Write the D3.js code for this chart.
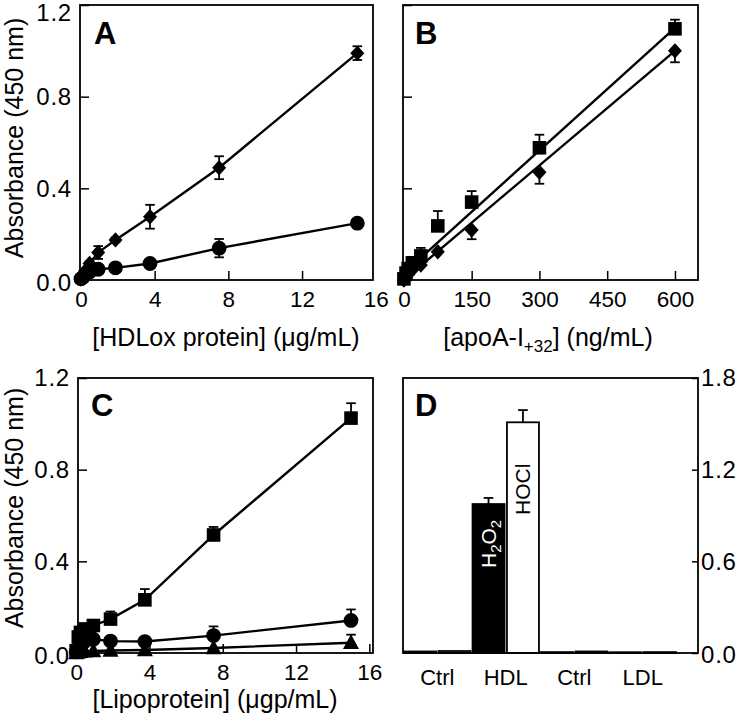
<!DOCTYPE html>
<html><head><meta charset="utf-8">
<script src="https://cdn.jsdelivr.net/npm/d3@7"></script>
<style>
body{margin:0;background:#fff}
text{font-family:"Liberation Sans",Arial,Helvetica,sans-serif;fill:#000}
</style>
</head><body>
<svg id="c" width="736" height="719" xmlns="http://www.w3.org/2000/svg"></svg>
<script>
// ---------------- DATA ----------------
// Panel A: [HDLox protein] (µg/mL)
const concA = [0, 0.117, 0.234, 0.469, 0.938, 1.875, 3.75, 7.5, 15];
const aDiamond = [0.005, 0.02, 0.04, 0.072, 0.12, 0.175, 0.276, 0.49, 0.99];
const aDiamondErr = [0, 0, 0, 0.01, 0.028, 0.01, 0.052, 0.05, 0.03];
const aCircle = [0.005, 0.012, 0.025, 0.035, 0.047, 0.053, 0.072, 0.139, 0.248];
const aCircleErr = [0, 0, 0, 0, 0, 0, 0.01, 0.04, 0.015];

// Panel B: [apoA-I+32] (ng/mL)
const concB = [0, 4.7, 9.4, 18.75, 37.5, 75, 150, 300, 600];
const bSquare = [0.005, 0.03, 0.05, 0.075, 0.105, 0.236, 0.34, 0.577, 1.096];
const bSquareErr = [0, 0, 0, 0, 0.035, 0.065, 0.048, 0.057, 0.04];
const bDiamond = [0, 0.015, 0.03, 0.045, 0.065, 0.123, 0.218, 0.47, 1.0];
const bDiamondErr = [0, 0, 0, 0, 0, 0, 0.04, 0.05, 0.05];
// fitted regression lines [x0, y0, x1, y1]
const bSquareFit = [0, 0.03, 600, 1.10];
const bDiamondFit = [0, 0.0, 600, 1.0];

// Panel C: [Lipoprotein] (µgp/mL)
const concC = [0, 0.117, 0.234, 0.469, 0.938, 1.875, 3.75, 7.5, 15];
const cSquare = [0.01, 0.07, 0.09, 0.105, 0.12, 0.148, 0.232, 0.515, 1.025];
const cSquareErr = [0, 0, 0, 0, 0, 0.033, 0.047, 0.035, 0.065];
const cCircle = [0.005, 0.02, 0.035, 0.05, 0.06, 0.052, 0.05, 0.076, 0.142];
const cCircleErr = [0, 0, 0, 0, 0, 0, 0, 0.04, 0.048];
const cTriangle = [0, 0.003, 0.005, 0.007, 0.009, 0.011, 0.013, 0.022, 0.045];
const cTriangleErr = [0, 0, 0, 0, 0, 0, 0, 0, 0.035];

// Panel D: bars
const dGroups = ["Ctrl", "HDL", "Ctrl", "LDL"];
const dH2O2 = [0.01, 0.975, 0.006, 0.005];
const dH2O2Err = [0, 0.04, 0, 0];
const dHOCl = [0.013, 1.51, 0.01, 0.006];
const dHOClErr = [0, 0.08, 0, 0];

// Tick values / labels
const ticksConc = [0, 4, 8, 12, 16];
const ticksApo = [0, 150, 300, 450, 600];
const ticksAbs = [0, 0.4, 0.8, 1.2];
const ticksD = [0, 0.6, 1.2, 1.8];

// ---------------- DRAWING ----------------
const svg = d3.select("#c");
const XTICK_FS = 22.5, YTICK_FS = 24, TITLE_FS = 25;
const LW = 2.4;

const shapes = {
  circle: r => `M${r},0A${r},${r} 0 1,1 ${-r},0A${r},${r} 0 1,1 ${r},0Z`,
  diamond: s => `M0,${-s*1.1}L${s},0L0,${s*1.1}L${-s},0Z`,
  square: s => `M${-s},${-s}H${s}V${s}H${-s}Z`,
  triangle: s => `M0,${-s*1.15}L${s*1.1},${s*0.85}L${-s*1.1},${s*0.85}Z`
};
const shapeSize = {circle: 7.4, diamond: 7, square: 6.8, triangle: 7.3};

function makePanel(p) {
  const g = svg.append("g");
  const x = d3.scaleLinear().domain(p.xd).range([p.l, p.r]);
  const y = d3.scaleLinear().domain(p.yd).range([p.b, p.t]);

  const xa = g.append("g").attr("transform", `translate(0,${p.b})`)
    .call(d3.axisBottom(x).tickValues(p.xt).tickFormat(d3.format("d"))
      .tickSizeInner(-9).tickSizeOuter(0).tickPadding(11));
  xa.select(".domain").remove();
  xa.selectAll("text").attr("font-size", XTICK_FS).attr("font-family", null);
  xa.selectAll(".tick line").attr("stroke-width", 1.5)
    .attr("display", d => (x(d) < p.l - 0.5 || x(d) > p.r + 0.5) ? "none" : null);

  const ya = g.append("g").attr("transform", `translate(${p.l},0)`)
    .call(d3.axisLeft(y).tickValues(p.yt).tickFormat(d3.format(".1f"))
      .tickSizeInner(-9).tickSizeOuter(0).tickPadding(8));
  ya.select(".domain").remove();
  ya.selectAll("text").attr("font-size", YTICK_FS).attr("font-family", null)
    .attr("letter-spacing", 0.8)
    .attr("y", d => (y(d) < 12) ? 8 : (p.b - y(d) < 1 ? 3 : 0));
  ya.selectAll(".tick line").attr("stroke-width", 1.5);
  if (!p.yLabels) ya.selectAll("text").remove();

  g.append("rect").attr("x", p.l).attr("y", p.t).attr("width", p.r - p.l).attr("height", p.b - p.t)
    .attr("fill", "none").attr("stroke", "#000").attr("stroke-width", 1.8);

  // lines
  p.series.forEach(s => {
    if (s.fit) {
      g.append("line").attr("x1", x(s.fit[0])).attr("y1", y(s.fit[1]))
        .attr("x2", x(s.fit[2])).attr("y2", y(s.fit[3]))
        .attr("stroke", "#000").attr("stroke-width", LW);
    } else {
      const pts = s.xs.map((v, i) => [v, s.ys[i]]);
      g.append("path").attr("d", d3.line().x(d => x(d[0])).y(d => y(d[1]))(pts))
        .attr("fill", "none").attr("stroke", "#000").attr("stroke-width", LW);
    }
  });
  // error bars
  p.series.forEach(s => {
    s.xs.forEach((v, i) => {
      const e = s.err[i];
      if (!e) return;
      const cx = x(v), cy = y(s.ys[i]);
      const ends = [];
      if (s.dir.includes("up")) ends.push(y(s.ys[i] + e));
      if (s.dir.includes("down")) ends.push(y(s.ys[i] - e));
      ends.forEach(ey => {
        g.append("line").attr("x1", cx).attr("x2", cx).attr("y1", cy).attr("y2", ey)
          .attr("stroke", "#000").attr("stroke-width", 1.8);
        g.append("line").attr("x1", cx - 4.8).attr("x2", cx + 4.8).attr("y1", ey).attr("y2", ey)
          .attr("stroke", "#000").attr("stroke-width", 1.8);
      });
    });
  });
  // markers
  p.series.forEach(s => {
    s.xs.forEach((v, i) => {
      g.append("path").attr("d", shapes[s.shape](shapeSize[s.shape]))
        .attr("transform", `translate(${x(v)},${y(s.ys[i])})`).attr("fill", "#000");
    });
  });

  g.append("text").attr("x", p.letter[0]).attr("y", p.letter[1]).attr("font-size", 31)
    .attr("font-weight", "bold").text(p.name);
  return {g, x, y};
}

// Panel A
makePanel({
  name: "A", letter: [94, 44],
  l: 80, r: 373, t: 5, b: 280, xd: [-0.05, 15.85], yd: [0, 1.2],
  xt: ticksConc, yt: ticksAbs, yLabels: true,
  series: [
    {xs: concA, ys: aDiamond, err: aDiamondErr, dir: ["up", "down"], shape: "diamond"},
    {xs: concA, ys: aCircle, err: aCircleErr, dir: ["up", "down"], shape: "circle"}
  ]
});
// Panel B
makePanel({
  name: "B", letter: [415, 44],
  l: 403, r: 698, t: 5, b: 280, xd: [-2, 651], yd: [0, 1.2],
  xt: ticksApo, yt: ticksAbs, yLabels: false,
  series: [
    {xs: concB, ys: bSquare, err: bSquareErr, dir: ["up"], shape: "square", fit: bSquareFit},
    {xs: concB, ys: bDiamond, err: bDiamondErr, dir: ["down"], shape: "diamond", fit: bDiamondFit}
  ]
});
// Panel C
makePanel({
  name: "C", letter: [91, 416],
  l: 78, r: 373, t: 378, b: 653, xd: [0.1, 16.2], yd: [0, 1.2],
  xt: ticksConc, yt: ticksAbs, yLabels: true,
  series: [
    {xs: concC, ys: cTriangle, err: cTriangleErr, dir: ["up"], shape: "triangle"},
    {xs: concC, ys: cCircle, err: cCircleErr, dir: ["up"], shape: "circle"},
    {xs: concC, ys: cSquare, err: cSquareErr, dir: ["up"], shape: "square"}
  ]
});

// Panel D
(function () {
  const l = 403, r = 698, t = 378, b = 653;
  const g = svg.append("g");
  const y = d3.scaleLinear().domain([0, 1.8]).range([b, t]);
  const x0 = d3.scaleBand().domain(d3.range(dGroups.length)).range([l, 677]);
  const x1 = d3.scaleBand().domain([0, 1]).range([0, x0.bandwidth()]).paddingInner(0.07).paddingOuter(0.03);

  const ya = g.append("g").attr("transform", `translate(${r},0)`)
    .call(d3.axisRight(y).tickValues(ticksD).tickFormat(d3.format(".1f"))
      .tickSizeInner(-6).tickSizeOuter(0).tickPadding(3));
  ya.select(".domain").remove();
  ya.selectAll("text").attr("font-size", YTICK_FS).attr("font-family", null)
    .attr("letter-spacing", 0.8).attr("y", d => d === 0 ? 2 : 0);
  ya.selectAll(".tick line").attr("stroke-width", 1.5);

  const bars = [];
  dGroups.forEach((grp, i) => {
    bars.push({gi: i, k: 0, v: dH2O2[i], e: dH2O2Err[i], fill: "#000"});
    bars.push({gi: i, k: 1, v: dHOCl[i], e: dHOClErr[i], fill: "#fff"});
  });
  bars.forEach(d => {
    const bx = x0(d.gi) + x1(d.k), bw = x1.bandwidth();
    if (d.e) {
      const cx = bx + bw / 2, ey = y(d.v + d.e);
      g.append("line").attr("x1", cx).attr("x2", cx).attr("y1", y(d.v)).attr("y2", ey)
        .attr("stroke", "#000").attr("stroke-width", 1.8);
      g.append("line").attr("x1", cx - 4.8).attr("x2", cx + 4.8).attr("y1", ey).attr("y2", ey)
        .attr("stroke", "#000").attr("stroke-width", 1.8);
    }
    g.append("rect").attr("x", bx).attr("y", y(d.v)).attr("width", bw)
      .attr("height", Math.max(y(0) - y(d.v), 0.5))
      .attr("fill", d.fill).attr("stroke", "#000").attr("stroke-width", 1.8);
  });

  g.append("rect").attr("x", l).attr("y", t).attr("width", r - l).attr("height", b - t)
    .attr("fill", "none").attr("stroke", "#000").attr("stroke-width", 1.8);

  dGroups.forEach((grp, i) => {
    g.append("text").attr("x", x0(i) + x0.bandwidth() / 2).attr("y", 685)
      .attr("text-anchor", "middle").attr("font-size", 22).text(grp);
  });

  // in-bar labels (rotated), grouped with opacity to force grayscale antialiasing
  const lab = g.append("g").attr("opacity", 0.999);
  const hx = x0(1) + x1(0) + x1.bandwidth() / 2;
  const h = lab.append("text").attr("transform", `translate(${hx + 7.5},568) rotate(-90)`)
    .attr("font-size", 21).style("fill", "#fff");
  h.append("tspan").text("H");
  h.append("tspan").attr("font-size", 15).attr("dy", 5).text("2");
  h.append("tspan").attr("dy", -5).text("O");
  h.append("tspan").attr("font-size", 15).attr("dy", 5).text("2");
  const ox = x0(1) + x1(1) + x1.bandwidth() / 2;
  lab.append("text").attr("transform", `translate(${ox + 7.5},515) rotate(-90)`)
    .attr("font-size", 21).style("fill", "#000").text("HOCl");

  g.append("text").attr("x", 415).attr("y", 416).attr("font-size", 31)
    .attr("font-weight", "bold").text("D");
})();

// Axis titles
function yTitle(cx, cy) {
  svg.append("text").attr("transform", `translate(${cx},${cy}) rotate(-90)`)
    .attr("text-anchor", "middle").attr("font-size", TITLE_FS).text("Absorbance (450 nm)");
}
yTitle(23, 138);
yTitle(23, 508);

svg.append("text").attr("x", 226).attr("y", 346).attr("text-anchor", "middle")
  .attr("font-size", TITLE_FS).text("[HDLox protein] (\u03BCg/mL)");
const tb = svg.append("text").attr("x", 548).attr("y", 346).attr("text-anchor", "middle")
  .attr("font-size", TITLE_FS);
tb.append("tspan").text("[apoA-I");
tb.append("tspan").attr("font-size", 17).attr("dy", 6).text("+32");
tb.append("tspan").attr("dy", -6).text("] (ng/mL)");
svg.append("text").attr("x", 215).attr("y", 708).attr("text-anchor", "middle")
  .attr("font-size", TITLE_FS).text("[Lipoprotein] (\u03BCgp/mL)");
</script>
</body></html>
